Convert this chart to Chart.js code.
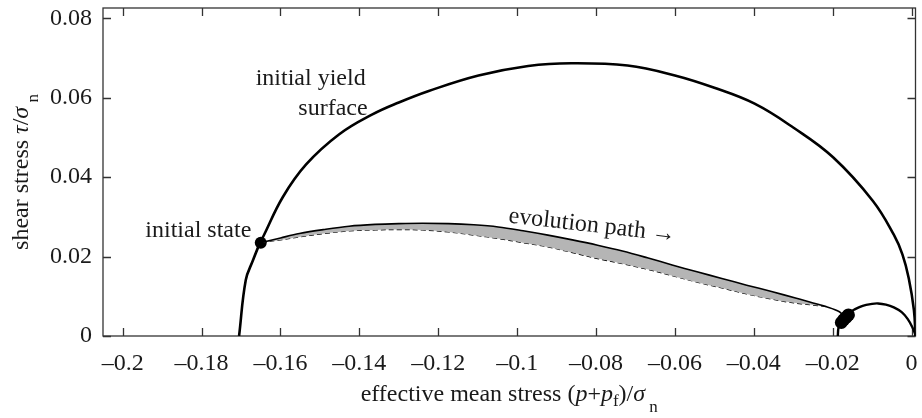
<!DOCTYPE html>
<html lang="en">
<head>
    <meta charset="UTF-8">
    <title>Yield surface and evolution path</title>
    <script src="https://cdn.jsdelivr.net/npm/chart.js"></script>
    <style>
        body { margin: 0; background: #fff; }
        #chart { display: block; }
    </style>
</head>
<body>
    <canvas id="chart" width="922" height="418"></canvas>

    <script>
        // axis ticks
        const xTicks = [-0.2, -0.18, -0.16, -0.14, -0.12, -0.1, -0.08, -0.06, -0.04, -0.02, 0];
        const xTickLabels = ['\u20130.2', '\u20130.18', '\u20130.16', '\u20130.14', '\u20130.12', '\u20130.1',
                             '\u20130.08', '\u20130.06', '\u20130.04', '\u20130.02', '0'];
        const yTicks = [0, 0.02, 0.04, 0.06, 0.08];
        const yTickLabels = ['0', '0.02', '0.04', '0.06', '0.08'];

        // initial yield surface (big arc)
        const yieldX = [-0.1705, -0.1688, -0.1670, -0.1652, -0.1644, -0.1594, -0.1535, -0.1451, -0.1367, -0.1300,
                        -0.1224, -0.1098, -0.0972, -0.0863, -0.0720, -0.0600, -0.0500, -0.0398, -0.0300, -0.0199,
                        -0.0098, -0.0045, -0.0023, -0.0007, 0.0006, 0.0010];
        const yieldY = [0, 0.0141, 0.0190, 0.02345, 0.0250, 0.0350, 0.0432, 0.0508, 0.0558, 0.0588,
                        0.0617, 0.0656, 0.0680, 0.0687, 0.0681, 0.0656, 0.0625, 0.0585, 0.0525, 0.0450,
                        0.0340, 0.0255, 0.0205, 0.0145, 0.0065, 0];

        // small arc near the end state
        const smallX = [-0.0187, -0.0185, -0.0178, -0.0165, -0.0146, -0.0124, -0.0100, -0.0085, -0.0065,
                        -0.0045, -0.0025, -0.0010, 0.0002, 0.0009, 0.0010];
        const smallY = [0, 0.0022, 0.0040, 0.0055, 0.0066, 0.0076, 0.0081, 0.0082, 0.0079,
                        0.0072, 0.0060, 0.0043, 0.0022, 0.0005, 0];

        // evolution path, solid upper bound
        const pathX = [-0.1648, -0.1600, -0.1552, -0.1490, -0.1426, -0.1360, -0.1300, -0.1240, -0.1174, -0.1110,
                       -0.1048, -0.0985, -0.0922, -0.0860, -0.0796, -0.0733, -0.0670, -0.0607, -0.0544, -0.0481,
                       -0.0418, -0.0355, -0.0292, -0.0250, -0.0217, -0.0183, -0.0172];
        const pathY = [0.02354, 0.0247, 0.0258, 0.0268, 0.02764, 0.0281, 0.02831, 0.0284, 0.02831, 0.0280,
                       0.02746, 0.0265, 0.0254, 0.0242, 0.02286, 0.0214, 0.0197, 0.0179, 0.01616, 0.0145,
                       0.0128, 0.0112, 0.0095, 0.0083, 0.0074, 0.0061, 0.0048];

        // evolution path, dashed lower bound
        const dashX = [-0.1648, -0.1600, -0.1552, -0.1490, -0.1426, -0.1360, -0.1300, -0.1240, -0.1174, -0.1110,
                       -0.1048, -0.0985, -0.0922, -0.0860, -0.0796, -0.0733, -0.0670, -0.0607, -0.0544, -0.0481,
                       -0.0418, -0.0355, -0.0317, -0.0280, -0.0250, -0.0217];
        const dashY = [0.02354, 0.0242, 0.02495, 0.0258, 0.02646, 0.0267, 0.0268, 0.0267, 0.0262, 0.0254,
                       0.02455, 0.0235, 0.02244, 0.0210, 0.0195, 0.0182, 0.0168, 0.0152, 0.01355, 0.0121,
                       0.0106, 0.0093, 0.0086, 0.0081, 0.0078, 0.0074];

        // state markers
        const startX = [-0.1650];
        const startY = [0.0235];
        const endX = [-0.0178, -0.0172, -0.0166, -0.0160];
        const endY = [0.0034, 0.0041, 0.0047, 0.0053];

        const pts = (xs, ys) => xs.map((x, i) => ({ x: x, y: ys[i] }));

        const FONT = "'Liberation Serif', 'Times New Roman', serif";
        const INK = '#1a1a1a';
        const SIZE = 24, SUB = 17;

        // draws a run of text pieces (italic / subscript) starting at x, baseline y
        function drawPieces(ctx, pieces, x, y) {
            pieces.forEach(p => {
                ctx.font = (p.it ? 'italic ' : '') + (p.sub ? SUB : SIZE) + 'px ' + FONT;
                ctx.fillText(p.t, x, y + (p.dy || 0));
                x += ctx.measureText(p.t).width;
            });
        }
        function piecesWidth(ctx, pieces) {
            let w = 0;
            pieces.forEach(p => {
                ctx.font = (p.it ? 'italic ' : '') + (p.sub ? SUB : SIZE) + 'px ' + FONT;
                w += ctx.measureText(p.t).width;
            });
            return w;
        }

        const framePlugin = {
            id: 'frame',
            beforeDatasetsDraw(chart) {
                const { ctx, chartArea: a, scales } = chart;
                ctx.save();
                ctx.strokeStyle = '#333';
                ctx.lineWidth = 1.3;
                ctx.strokeRect(a.left, a.top, a.right - a.left, a.bottom - a.top);
                ctx.beginPath();
                xTicks.forEach(v => {
                    const px = Math.round(scales.x.getPixelForValue(v)) + 0.5;
                    ctx.moveTo(px, a.bottom); ctx.lineTo(px, a.bottom - 8);
                    ctx.moveTo(px, a.top); ctx.lineTo(px, a.top + 8);
                });
                yTicks.forEach(v => {
                    const py = Math.round(scales.y.getPixelForValue(v)) + 0.5;
                    ctx.moveTo(a.left, py); ctx.lineTo(a.left + 8, py);
                    ctx.moveTo(a.right, py); ctx.lineTo(a.right - 8, py);
                });
                ctx.stroke();
                ctx.restore();
            }
        };

        const textPlugin = {
            id: 'texts',
            afterDraw(chart) {
                const { ctx, chartArea: a, scales } = chart;
                const X = v => scales.x.getPixelForValue(v);
                const Y = v => scales.y.getPixelForValue(v);
                ctx.save();
                ctx.fillStyle = INK;
                ctx.textBaseline = 'alphabetic';

                // x axis title
                const xt = [
                    { t: 'effective mean stress (' }, { t: 'p', it: true }, { t: '+' }, { t: 'p', it: true },
                    { t: 'f', sub: true, dy: 5 }, { t: ')/' }, { t: '\u03C3', it: true }, { t: ' n', sub: true, dy: 11 }
                ];
                ctx.textAlign = 'left';
                drawPieces(ctx, xt, (a.left + a.right) / 2 - piecesWidth(ctx, xt) / 2, 401);

                // y axis title
                const yt = [
                    { t: 'shear stress ' }, { t: '\u03C4', it: true }, { t: '/' }, { t: '\u03C3', it: true },
                    { t: ' n', sub: true, dy: 10 }
                ];
                ctx.translate(28, (a.top + a.bottom) / 2);
                ctx.rotate(-Math.PI / 2);
                drawPieces(ctx, yt, -piecesWidth(ctx, yt) / 2, 0);
                ctx.setTransform(1, 0, 0, 1, 0, 0);

                // annotations
                ctx.font = SIZE + 'px ' + FONT;
                ctx.textAlign = 'right';
                ctx.fillText('initial yield', X(-0.1384), Y(0.0632));
                ctx.fillText('surface', X(-0.1379), Y(0.0557));
                ctx.fillText('initial state', X(-0.1674), Y(0.0249));

                ctx.textAlign = 'left';
                ctx.translate(X(-0.1023), Y(0.0286));
                ctx.rotate(6.5 * Math.PI / 180);
                ctx.fillText('evolution path \u2192', 0, 0);
                ctx.restore();
            }
        };

        new Chart(document.getElementById('chart').getContext('2d'), {
            type: 'scatter',
            data: {
                datasets: [
                    {
                        data: pts(pathX, pathY),
                        showLine: true,
                        borderColor: '#000',
                        borderWidth: 1.6,
                        backgroundColor: '#b5b5b5',
                        fill: { target: 1 },
                        tension: 0.35,
                        pointRadius: 0
                    },
                    {
                        data: pts(dashX, dashY),
                        showLine: true,
                        borderColor: '#000',
                        borderWidth: 1.2,
                        borderDash: [5, 3],
                        tension: 0.35,
                        pointRadius: 0
                    },
                    {
                        data: pts(yieldX, yieldY),
                        showLine: true,
                        borderColor: '#000',
                        borderWidth: 2.6,
                        tension: 0.4,
                        pointRadius: 0
                    },
                    {
                        data: pts(smallX, smallY),
                        showLine: true,
                        borderColor: '#000',
                        borderWidth: 2.4,
                        tension: 0.4,
                        pointRadius: 0
                    },
                    {
                        data: pts(startX, startY),
                        pointRadius: 6,
                        pointBackgroundColor: '#000',
                        pointBorderWidth: 0
                    },
                    {
                        data: pts(endX, endY),
                        pointRadius: 6.5,
                        pointBackgroundColor: '#000',
                        pointBorderWidth: 0
                    }
                ]
            },
            options: {
                responsive: false,
                animation: false,
                devicePixelRatio: 1,
                layout: { padding: { top: 8, right: 2, left: 0, bottom: 0 } },
                plugins: { legend: { display: false }, tooltip: { enabled: false } },
                scales: {
                    x: {
                        type: 'linear',
                        min: -0.205,
                        max: 0.001,
                        grid: { display: false, drawTicks: false },
                        border: { display: false },
                        afterBuildTicks: s => { s.ticks = xTicks.map(v => ({ value: v })); },
                        afterFit: s => {
                            s.height = 82;
                            s.paddingLeft = 0;
                            s.paddingRight = 0;
                        },
                        ticks: {
                            autoSkip: false,
                            maxRotation: 0,
                            padding: 13,
                            color: INK,
                            font: { family: FONT, size: SIZE },
                            callback: (v, i) => xTickLabels[i]
                        }
                    },
                    y: {
                        type: 'linear',
                        min: 0,
                        max: 0.0826,
                        grid: { display: false, drawTicks: false },
                        border: { display: false },
                        afterBuildTicks: s => { s.ticks = yTicks.map(v => ({ value: v })); },
                        afterFit: s => {
                            s.width = 103;
                            s.paddingTop = 0;
                            s.paddingBottom = 0;
                        },
                        ticks: {
                            autoSkip: false,
                            padding: 11,
                            color: INK,
                            font: { family: FONT, size: SIZE },
                            callback: (v, i) => yTickLabels[i]
                        }
                    }
                }
            },
            plugins: [framePlugin, textPlugin]
        });
    </script>
</body>
</html>
